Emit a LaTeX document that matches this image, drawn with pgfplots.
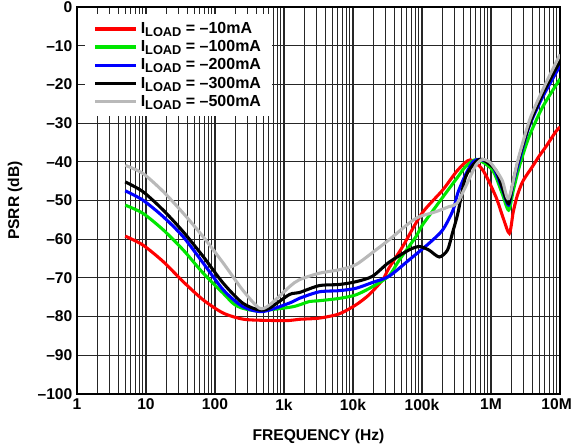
\documentclass[border=0pt]{standalone}
\usepackage{fontspec}
\setmainfont{Liberation Sans}
\usepackage{pgfplots}
\pgfplotsset{compat=1.18}
\definecolor{cred}{RGB}{255,0,0}
\definecolor{cgreen}{RGB}{0,230,0}
\definecolor{cblue}{RGB}{0,0,255}
\definecolor{cgray}{RGB}{185,185,185}
\newcommand{\iload}{I\raisebox{-0.35ex}{\fontsize{9.6}{10}\selectfont LOAD}}
\begin{document}
\begin{tikzpicture}
\begin{axis}[
  at={(0,0)}, anchor=south west,
  scale only axis, width=362.25pt, height=290.25pt,
  xmode=log, xmin=1, xmax=1e7, ymin=-100, ymax=0,
  log basis x=10,
  xtick={1,10,100,1000,10000,100000,1000000,10000000},
  xticklabels={1,10,100,1k,10k,100k,1M,\hspace*{-5pt}10M},
  minor xtick={2,3,4,5,6,7,8,9,
    20,30,40,50,60,70,80,90,
    200,300,400,500,600,700,800,900,
    2000,3000,4000,5000,6000,7000,8000,9000,
    20000,30000,40000,50000,60000,70000,80000,90000,
    200000,300000,400000,500000,600000,700000,800000,900000,
    2000000,3000000,4000000,5000000,6000000,7000000,8000000,9000000},
  ytick={-100,-90,-80,-70,-60,-50,-40,-30,-20,-10,0},
  yticklabels={–100,–90,–80,–70,–60,–50,–40,–30,–20,–10,0},
  major tick length=0pt, minor tick length=0pt,
  xmajorgrids, xminorgrids, ymajorgrids,
  grid style={black!85, line width=0.85pt},
  minor grid style={black!85, line width=0.85pt},
  axis line style={black, line width=1.7pt},
  tick label style={font=\fontsize{11.7}{14}\selectfont\bfseries},
  /pgf/number format/assume math mode=true,
  xlabel={FREQUENCY (Hz)}, ylabel={PSRR (dB)},
  every axis x label/.style={at={(axis description cs:0.5,-0.111)}, anchor=center, font=\fontsize{11.7}{14}\selectfont\bfseries},
  every axis y label/.style={at={(axis description cs:-0.128,0.5)}, anchor=center, rotate=90, font=\fontsize{11.7}{14}\selectfont\bfseries},
  legend style={draw=none, fill=white, at={(axis description cs:0.0166,0.982)}, anchor=north west,
    font=\fontsize{12}{14}\selectfont\bfseries, inner xsep=6pt, inner ysep=4pt, row sep=-0.2pt},
  legend cell align=left,
  legend image code/.code={\draw[#1, line width=2.6pt] (0pt,0pt) -- (31pt,0pt);},
  every axis plot/.append style={line width=2.3pt, smooth, tension=0.45},
  clip=true
]
% red -10mA
\addplot[cred] coordinates {
(5,-59.2) (9,-61.5) (17.8,-65.8) (34.7,-71) (67.6,-75.7) (132,-79.1) (263,-80.7) (646,-81) (1200,-81)
(1660,-80.7) (3236,-80.4) (6310,-79.3) (10965,-77) (16982,-74.4) (26915,-70.5) (33113,-67.5)
(52481,-61.9) (100000,-53.3) (199526,-47.3) (331131,-42.1) (500000,-39.5) (758578,-42.1)
(1174898,-49) (1500000,-54.5) (1850000,-58.5) (2100000,-53) (2400000,-48.8) (2900000,-45)
(4070000,-41) (5000000,-38.5) (6300000,-36) (8700000,-32.2) (10000000,-31)};
% green -100mA
\addplot[cgreen] coordinates {
(5,-51.2) (9,-53.3) (17.8,-57.6) (34.7,-62.8) (67.6,-68.8) (132,-74) (204,-77.2) (398,-78.5)
(1200,-77.6) (1660,-77) (2344,-76.1) (3236,-75.9) (6310,-75.3) (10965,-74.4) (19055,-72.3)
(33113,-69.5) (46774,-65.4) (81283,-59.4) (100000,-56.5) (158489,-51.6) (245471,-47)
(331131,-43.9) (426580,-41.3) (620000,-39.4) (1047129,-42.1) (1445440,-48.1) (1800000,-52.5)
(2100000,-47.5) (2570396,-41.3) (3548134,-33.6) (5623413,-25.8) (10000000,-18.6)};
% blue -200mA
\addplot[cblue] coordinates {
(5,-47.5) (9,-49.9) (17.8,-54.2) (34.7,-59.4) (67.6,-66.2) (132,-73.1) (251,-77.4) (490,-78.7)
(1200,-76.5) (1660,-75.3) (3236,-73.6) (6310,-73.3) (10965,-72.7) (19055,-71.2) (33113,-69.6)
(64565,-65.4) (125893,-61.1) (199526,-57.6) (281838,-52.5) (331131,-48) (436516,-43)
(549541,-40) (690000,-39.4) (1047129,-41) (1445440,-46.8) (1800000,-51.2) (2100000,-45.5)
(2570396,-39.6) (3548134,-31) (5623413,-23.2) (10000000,-15.2)};
% black -300mA
\addplot[black] coordinates {
(5,-45.2) (9,-47.7) (17.8,-52.5) (34.7,-58.1) (67.6,-64.5) (132,-71.4) (251,-76.5) (437,-78.3)
(617,-77.8) (1200,-74.3) (1660,-73.8) (3236,-72) (6310,-71.7) (10965,-71) (19055,-69.6)
(33113,-66) (64565,-62.8) (91201,-61.9) (125893,-62.8) (177828,-64.6) (234423,-62.8)
(275423,-58.5) (331131,-53.3) (426580,-44) (602560,-40) (758578,-39.4) (1174898,-42.2)
(1445440,-46.5) (1800000,-50.8) (2100000,-45) (2570396,-38.8) (3630781,-30.2) (5623413,-22.4)
(10000000,-14)};
% gray -500mA
\addplot[cgray] coordinates {
(5,-40.9) (9,-43) (17.8,-47.7) (34.7,-53.3) (67.6,-59.4) (132,-66.2) (251,-73.1) (437,-77.8)
(617,-77) (1200,-72.3) (1660,-70.5) (3236,-68.8) (6310,-67.9) (10965,-66.6) (21380,-62.8)
(33113,-60.2) (64565,-55.9) (91201,-54.2) (158489,-52.9) (245471,-51.6) (320000,-50.8)
(426580,-46.5) (602560,-40.9) (758578,-39.4) (1000000,-40.4) (1445440,-44.7) (1800000,-49.5)
(2454709,-39.6) (3630781,-29.2) (5623413,-21.4) (10000000,-12.3)};
\legend{\iload\ = –10mA, \iload\ = –100mA, \iload\ = –200mA, \iload\ = –300mA, \iload\ = –500mA}
\end{axis}
\pgfresetboundingbox
\path (-57.75pt,-40.5pt) rectangle (371.25pt,295.5pt);
\end{tikzpicture}
\end{document}
